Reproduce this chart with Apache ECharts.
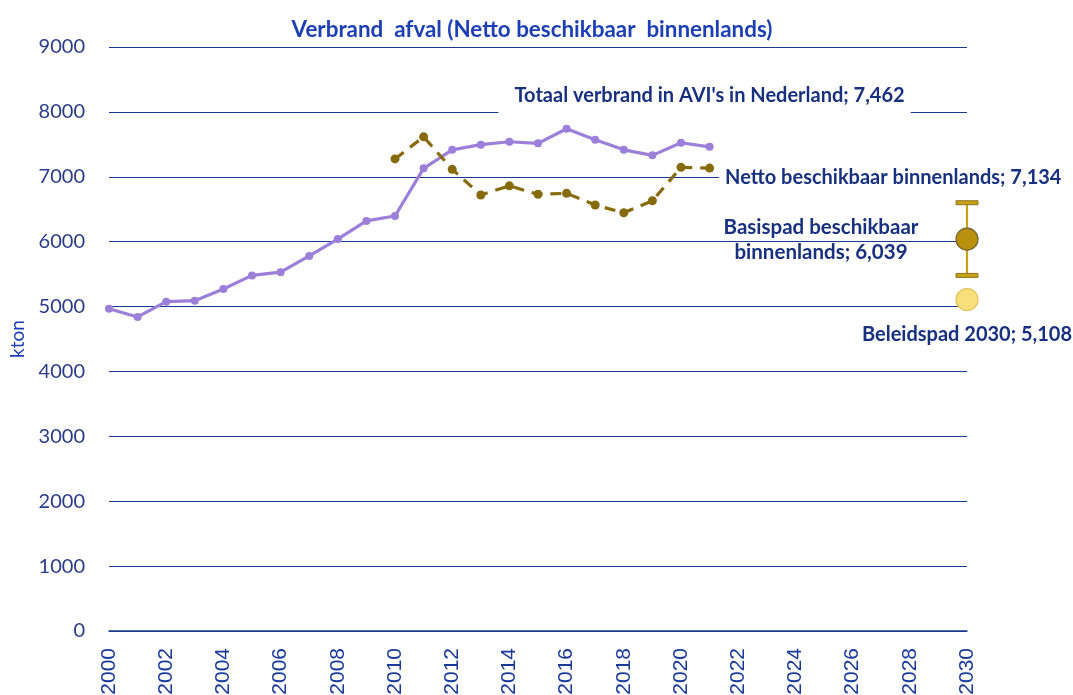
<!DOCTYPE html>
<html><head><meta charset="utf-8">
<script src="https://cdn.jsdelivr.net/npm/echarts@6/dist/echarts.min.js"></script>
<style>html,body{margin:0;padding:0;background:#fff}#c{width:1073px;height:695px}</style>
</head><body><div id="c"></div>
<script>
const years = [2000,2001,2002,2003,2004,2005,2006,2007,2008,2009,2010,2011,2012,2013,2014,2015,2016,2017,2018,2019,2020,2021];
const totaalVerbrand = [4965,4840,5075,5090,5270,5480,5530,5780,6040,6320,6395,7130,7415,7495,7540,7515,7740,7570,7415,7330,7525,7462];
const nettoYears = [2010,2011,2012,2013,2014,2015,2016,2017,2018,2019,2020,2021];
const nettoBinnenlands = [7275,7615,7115,6720,6860,6730,6745,6565,6445,6630,7145,7134];
const basispadYear = 2030, basispadValue = 6039, basispadLow = 5480, basispadHigh = 6600;
const beleidspadYear = 2030, beleidspadValue = 5108;
const titleText = 'Verbrand  afval (Netto beschikbaar  binnenlands)';
const yAxisName = 'kton';

const navy = '#1a3a8f';
const chart = echarts.init(document.getElementById('c'));
const lastIdx = totaalVerbrand.length - 1;
const nLast = nettoBinnenlands.length - 1;

chart.setOption({
  animation: false,
  backgroundColor: '#fff',
  title: {
    text: titleText, left: 527, top: 14, textAlign: 'center',
    textStyle: { fontFamily: 'Lato', fontWeight: 'bold', fontSize: 22.4, color: '#1c3fb5' }
  },
  grid: { left: 109, right: 106, top: 47, bottom: 64, containLabel: false, outerBoundsMode: 'none' },
  xAxis: {
    type: 'value', min: 2000, max: 2030, interval: 2,
    axisLine: { show: true, lineStyle: { color: navy, width: 1.5 } },
    axisTick: { show: false },
    splitLine: { show: false },
    axisLabel: { rotate: 90, margin: 17, fontFamily: '"Liberation Sans", Arial, sans-serif', fontSize: 21, color: '#1a3a9a', formatter: v => String(v) }
  },
  yAxis: {
    type: 'value', min: 0, max: 9000, interval: 1000,
    name: yAxisName, nameLocation: 'middle', nameGap: 82, nameRotate: 90,
    nameTextStyle: { fontFamily: 'Lato', fontSize: 19, color: '#1c3fb5' },
    axisLine: { show: false }, axisTick: { show: false },
    splitLine: { show: true, lineStyle: { color: navy, width: 1.2 } },
    axisLabel: { margin: 24, fontFamily: 'Lato', fontSize: 20, color: '#2a3b8a', formatter: v => String(v) }
  },
  series: [
    {
      name: 'Totaal verbrand', type: 'line', z: 3,
      data: years.map((y, i) => {
        const d = { value: [y, totaalVerbrand[i]] };
        if (i === lastIdx) d.label = {
          show: true, position: 'top', distance: 0, offset: [-5, -27],
          formatter: "Totaal verbrand in AVI's in Nederland; 7,462",
          fontFamily: 'Lato', fontWeight: 'bold', fontSize: 20, color: '#17307f',
          backgroundColor: '#fff', padding: [6, 6, 10, 16]
        };
        return d;
      }),
      symbol: 'circle', symbolSize: 8,
      lineStyle: { color: '#9b7fd9', width: 3.2 },
      itemStyle: { color: '#9b7fd9' }
    },
    {
      name: 'Netto beschikbaar', type: 'line', z: 3,
      data: nettoYears.map((y, i) => {
        const d = { value: [y, nettoBinnenlands[i]] };
        if (i === nLast) d.label = {
          show: true, position: 'right', distance: 5, offset: [0, 9],
          formatter: 'Netto beschikbaar binnenlands; 7,134',
          fontFamily: 'Lato', fontWeight: 'bold', fontSize: 20, color: '#17307f',
          backgroundColor: '#fff', padding: [4, 2, 4, 6]
        };
        return d;
      }),
      symbol: 'circle', symbolSize: 9,
      lineStyle: { color: '#866a0c', width: 3.2, type: [11, 8] },
      itemStyle: { color: '#866a0c' }
    },
    {
      name: 'Basispad range', type: 'custom', z: 4,
      data: [[basispadYear, basispadLow, basispadHigh]],
      renderItem: function (params, api) {
        const x = api.coord([api.value(0), api.value(1)])[0];
        const yl = api.coord([api.value(0), api.value(1)])[1];
        const yh = api.coord([api.value(0), api.value(2)])[1];
        const hw = 11;
        return { type: 'group', children: [
          { type: 'line', shape: { x1: x, y1: yl, x2: x, y2: yh }, style: { stroke: '#c9a214', lineWidth: 2.2 } },
          { type: 'rect', shape: { x: x - hw, y: yh - 2, width: 2 * hw, height: 4 }, style: { fill: '#c9a214', stroke: '#8a7424', lineWidth: 1 } },
          { type: 'rect', shape: { x: x - hw, y: yl - 2, width: 2 * hw, height: 4 }, style: { fill: '#c9a214', stroke: '#8a7424', lineWidth: 1 } }
        ]};
      }
    },
    {
      name: 'Basispad', type: 'scatter', z: 5,
      data: [{ value: [basispadYear, basispadValue], label: {
        show: true, position: 'inside', offset: [-146, 1], align: 'center',
        formatter: 'Basispad beschikbaar\nbinnenlands; 6,039',
        fontFamily: 'Lato', fontWeight: 'bold', fontSize: 20.5, lineHeight: 25, color: '#17307f'
      }}],
      symbol: 'circle', symbolSize: 22,
      itemStyle: { color: '#b8900d', borderColor: '#6f6534', borderWidth: 1.2, opacity: 1 }
    },
    {
      name: 'Beleidspad', type: 'scatter', z: 5,
      data: [{ value: [beleidspadYear, beleidspadValue], label: {
        show: true, position: 'bottom', distance: 13,
        formatter: 'Beleidspad 2030; 5,108',
        fontFamily: 'Lato', fontWeight: 'bold', fontSize: 20, color: '#17307f'
      }}],
      symbol: 'circle', symbolSize: 22,
      itemStyle: { color: '#f9df7c', borderColor: '#e2c45a', borderWidth: 1.2, opacity: 1 }
    }
  ]
});
</script></body></html>
